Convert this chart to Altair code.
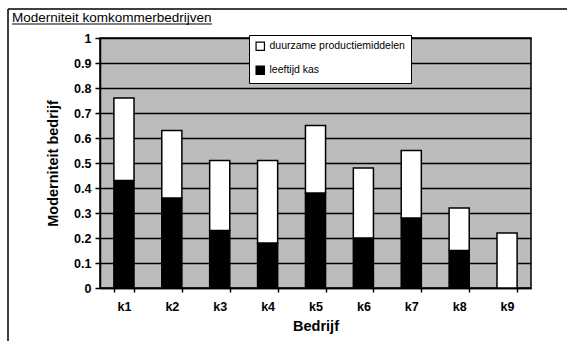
import altair as alt
import pandas as pd

# Companies and the two stacked components of the modernity score
bedrijven = ["k1", "k2", "k3", "k4", "k5", "k6", "k7", "k8", "k9"]
leeftijd_kas = [0.43, 0.36, 0.23, 0.18, 0.38, 0.20, 0.28, 0.15, 0.00]
duurzame = [0.33, 0.27, 0.28, 0.33, 0.27, 0.28, 0.27, 0.17, 0.22]
y_ticks = [0, 0.1, 0.2, 0.3, 0.4, 0.5, 0.6, 0.7, 0.8, 0.9, 1]

S_DUUR = "duurzame productiemiddelen"
S_KAS = "leeftijd kas"

rows = []
for b, k, d in zip(bedrijven, leeftijd_kas, duurzame):
    rows.append({"Bedrijf": b, "serie": S_KAS, "waarde": k, "volgorde": 0})
    rows.append({"Bedrijf": b, "serie": S_DUUR, "waarde": d, "volgorde": 1})
df = pd.DataFrame(rows)

FONT = "Liberation Sans"
W, H = 431, 250

bars = alt.Chart(df).mark_bar(stroke="black", strokeWidth=1.5).encode(
    x=alt.X(
        "Bedrijf:N",
        sort=bedrijven,
        scale=alt.Scale(paddingInner=0.58, paddingOuter=0.29),
        axis=alt.Axis(
            title="Bedrijf", labelAngle=0, tickBand="extent", tickSize=4,
            labelPadding=8, titlePadding=7, grid=False,
        ),
    ),
    y=alt.Y(
        "waarde:Q",
        stack="zero",
        scale=alt.Scale(domain=[0, 1], nice=False),
        axis=alt.Axis(
            title="Moderniteit bedrijf", values=y_ticks, format="~g",
            tickSize=5, labelPadding=4, titlePadding=13,
            grid=True, gridColor="black", gridWidth=1.5, gridOpacity=1,
        ),
    ),
    color=alt.Color(
        "serie:N",
        scale=alt.Scale(domain=[S_DUUR, S_KAS], range=["white", "black"]),
        legend=alt.Legend(
            title=None, orient="none", legendX=149, legendY=-3,
            direction="vertical", fillColor="white", strokeColor="black",
            padding=6, symbolType="square", symbolSize=70,
            symbolStrokeColor="black", symbolStrokeWidth=1.2,
            labelFont=FONT, labelFontSize=10.5, labelColor="black",
            rowPadding=10, labelLimit=200,
        ),
    ),
    order=alt.Order("volgorde:Q"),
)

# Underlined chart heading and the outer frame lines
heading = alt.Chart().mark_text(
    text="Moderniteit komkommerbedrijven", align="left", baseline="alphabetic",
    font=FONT, fontSize=13.5, color="black",
).encode(x=alt.value(-88), y=alt.value(-16))

underline = alt.Chart().mark_rule(color="black", strokeWidth=1).encode(
    x=alt.value(-88), x2=alt.value(112), y=alt.value(-14)
)
frame_top = alt.Chart().mark_rule(color="black", strokeWidth=1.5).encode(
    x=alt.value(-92), x2=alt.value(467), y=alt.value(-29)
)
frame_left = alt.Chart().mark_rule(color="black", strokeWidth=1.5).encode(
    x=alt.value(-92), y=alt.value(-29), y2=alt.value(303)
)

chart = alt.layer(bars, heading, underline, frame_top, frame_left).properties(
    width=W, height=H,
    autosize=alt.AutoSizeParams(type="none"),
    padding={"left": 100, "top": 38, "right": 38, "bottom": 53},
    background="white",
).configure_view(
    fill="#bcbcbc", stroke="black", strokeWidth=1.5,
).configure_axis(
    domainColor="black", domainWidth=1.5, tickColor="black", tickWidth=1.5,
    labelFont=FONT, labelFontSize=12.5, labelFontWeight="bold", labelColor="black",
    titleFont=FONT, titleFontSize=14.5, titleFontWeight="bold", titleColor="black",
)

chart.save("out.html", embed_options={"renderer": "svg", "actions": False})
